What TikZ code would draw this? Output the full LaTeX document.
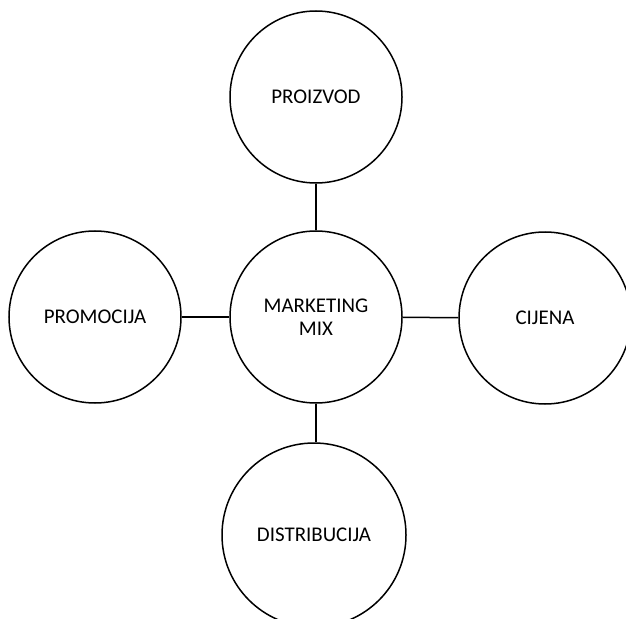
\documentclass[tikz,border=0pt]{standalone}
\usepackage{fontspec}
\setmainfont{Carlito}

\begin{document}
\begin{tikzpicture}[x=1bp,y=-1bp]
\tikzset{every node/.style={inner sep=0pt,font=\fontsize{21}{23}\selectfont,align=center}}
\tikzset{mixcircle/.style={draw,circle,line width=1.5bp,minimum size=172bp}}
\useasboundingbox (0,0) rectangle (626,619);

\node[mixcircle] (mix) at (316,317) {MARKETING\\MIX};

\node[mixcircle] (proizvod) at (316,97) {PROIZVOD};

\node[mixcircle] (promocija) at (95,317) {PROMOCIJA};

\node[mixcircle] (cijena) at (545,318) {CIJENA};

\node[mixcircle,minimum size=184bp] (distribucija) at (314,535) {DISTRIBUCIJA};
\draw [line width=1.5bp] (proizvod) -- (mix);
\draw [line width=1.5bp] (promocija) -- (mix);
\draw [line width=1.5bp] (mix) -- (cijena);
\draw [line width=1.5bp] (mix.south) -- (mix.south |- distribucija.north);
\end{tikzpicture}
\end{document}
